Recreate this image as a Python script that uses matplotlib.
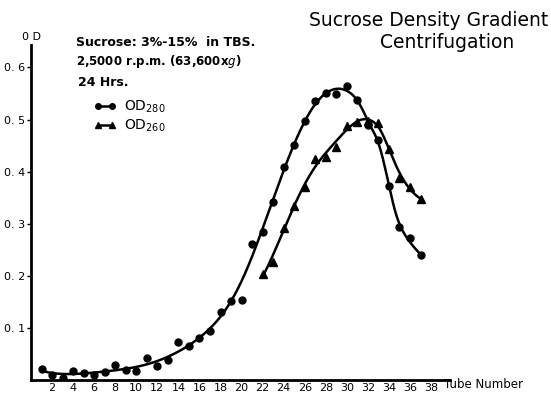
import numpy as np
import matplotlib
matplotlib.use("Agg")
import matplotlib.pyplot as plt

# данные
tube_280 = np.arange(1, 38)
od_280 = [0.022, 0.009, 0.004, 0.017, 0.014, 0.010, 0.016, 0.029, 0.019, 0.017,
          0.043, 0.027, 0.038, 0.072, 0.065, 0.080, 0.094, 0.131, 0.152, 0.153,
          0.262, 0.285, 0.342, 0.408, 0.451, 0.497, 0.535, 0.551, 0.549, 0.564,
          0.538, 0.490, 0.461, 0.373, 0.293, 0.272, 0.240]

tube_260 = np.arange(22, 38)
od_260 = [0.204, 0.226, 0.291, 0.334, 0.371, 0.425, 0.428, 0.448, 0.487, 0.495,
          0.498, 0.494, 0.443, 0.388, 0.370, 0.347]

x_ticks = list(range(2, 39, 2))
y_ticks = [0.1, 0.2, 0.3, 0.4, 0.5, 0.6]
y_labels = ["0. 1", "0. 2", "0. 3", "0. 4", "0. 5", "0. 6"]


def smooth(t, y, grid, bw):
    # локальная квадратичная регрессия, ширина окна bw(g)
    t = np.asarray(t, float)
    y = np.asarray(y, float)
    res = []
    for g in grid:
        h = bw(g)
        w = np.sqrt(np.exp(-0.5 * ((t - g) / h) ** 2))
        A = np.vstack([np.ones_like(t), t - g, (t - g) ** 2]).T
        coef = np.linalg.lstsq(A * w[:, None], y * w, rcond=None)[0]
        res.append(coef[0])
    return np.array(res)


def bw_280(g):
    return np.interp(g, [1, 15, 18, 26, 30, 32.5, 34.5, 37],
                     [3.0, 2.8, 2.4, 2.0, 1.6, 0.8, 0.8, 1.2])


def bw_260(g):
    return np.interp(g, [22, 30, 33, 37], [1.9, 1.7, 1.1, 1.4])


fig = plt.figure(figsize=(5.51, 3.95), dpi=100)
ax = fig.add_axes([0.0563, 0.038, 0.7604, 0.848])

g280 = np.linspace(1, 37, 400)
g260 = np.linspace(22, 37, 300)
ax.plot(g280, smooth(tube_280, od_280, g280, bw_280), color="black", lw=1.8)
ax.plot(g260, smooth(tube_260, od_260, g260, bw_260), color="black", lw=1.8)

ax.plot(tube_280, od_280, "o", color="black", ms=5)
ax.plot(tube_260, od_260, "^", color="black", ms=5.5)

# образцы для легенды
h1, = ax.plot([], [], "-o", color="black", lw=1.8, ms=4, label="OD$_{280}$")
h2, = ax.plot([], [], "-^", color="black", lw=1.8, ms=4.5, label="OD$_{260}$")
ax.legend(handles=[h1, h2], loc="upper left", bbox_to_anchor=(0.12, 0.877),
          frameon=False, numpoints=2, handlelength=1.6, fontsize=10,
          handletextpad=0.6, labelspacing=0.2)

ax.set_xlim(0, 39.8)
ax.set_ylim(0, 0.643)
ax.set_xticks(x_ticks)
ax.set_xticklabels([str(v) for v in x_ticks], fontsize=8)
ax.set_yticks(y_ticks)
ax.set_yticklabels(y_labels, fontsize=8)
ax.tick_params(axis="x", length=0, pad=2)
ax.tick_params(axis="y", length=3, width=1, direction="out", pad=1)

for s in ["top", "right"]:
    ax.spines[s].set_visible(False)
ax.spines["left"].set_linewidth(2)
ax.spines["bottom"].set_linewidth(2)

fig.text(31 / 551, 1 - 37 / 395, "0 D", fontsize=8, ha="center", va="center")
fig.text(444 / 551, 1 - 385 / 395, "Tube Number", fontsize=8.5, ha="left", va="center")

fig.text(76 / 551, 1 - 42 / 395, "Sucrose: 3%-15%  in TBS.", fontsize=9,
         fontweight="semibold", ha="left", va="center")
fig.text(76 / 551, 1 - 62 / 395, "2,5000 r.p.m. (63,600x$\\it{g}$)", fontsize=8.5,
         fontweight="semibold", ha="left", va="center")
fig.text(78 / 551, 1 - 82 / 395, "24 Hrs.", fontsize=9, fontweight="semibold",
         ha="left", va="center")

fig.text(548 / 551, 1 - 20 / 395, "Sucrose Density Gradient", fontsize=13.5,
         ha="right", va="center")
fig.text(447 / 551, 1 - 43 / 395, "Centrifugation", fontsize=13.5,
         ha="center", va="center")

fig.savefig("out.png", dpi=100)
